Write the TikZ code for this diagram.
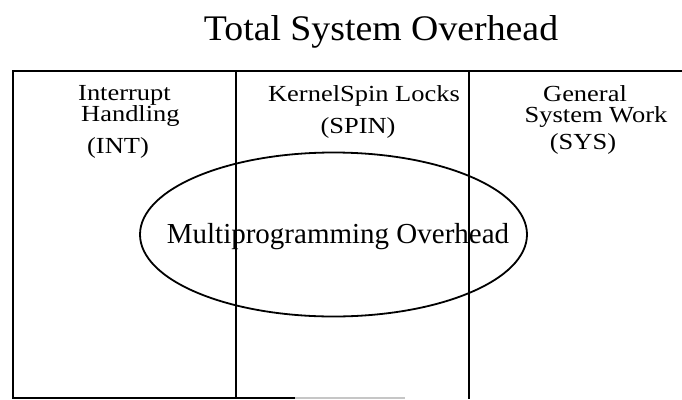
\documentclass[tikz,border=0pt]{standalone}
\usepackage{fontspec}
\setmainfont{Liberation Serif}
\usetikzlibrary{shapes.geometric}
\newcommand{\wide}[1]{\scalebox{1.15}[1]{#1}}
\begin{document}
\begin{tikzpicture}[x=1pt,y=-1pt,
  rule/.style={line width=1.9pt},
  lbl/.style={inner sep=0pt,font=\fontsize{23}{23}\selectfont},
]
\useasboundingbox (0,0) rectangle (682,399);
% frame and column dividers
\coordinate (tl) at (13,71);
\coordinate (tr) at (682,71);
\coordinate (bl) at (13,398);
\coordinate (bm) at (295,398);
\coordinate (be) at (405,398);
\coordinate (c1t) at (236,71);
\coordinate (c1b) at (236,399);
\coordinate (c2t) at (469,71);
\coordinate (c2b) at (469,399);
\draw[rule] (tr) -- (tl) -- (bl) -- (bm);
\draw[line width=1.2pt,gray!45] (bm) -- (be);
\draw[rule] (c1t) -- (c1b);
\draw[rule] (c2t) -- (c2b);
% title
\node[inner sep=0pt,anchor=base,font=\fontsize{36}{36}\selectfont] (title) at (381,40) {\scalebox{1.05}[1]{Total System Overhead}};
% column labels
\node[lbl,anchor=base west] (int1) at (78,100) {\wide{Interrupt}};
\node[lbl,anchor=base west] (int2) at (81,121) {\wide{Handling}};
\node[lbl,anchor=base] (int3) at (118,153) {\wide{(INT)}};
\node[lbl,anchor=base] (spin1) at (364,101) {\wide{KernelSpin Locks}};
\node[lbl,anchor=base] (spin2) at (358,133) {\wide{(SPIN)}};
\node[lbl,anchor=base] (sys1) at (585,101) {\wide{General}};
\node[lbl,anchor=base] (sys2) at (596,122) {\wide{System Work}};
\node[lbl,anchor=base] (sys3) at (583,149) {\wide{(SYS)}};
% overlapping region
\node[draw,ellipse,line width=1.8pt,inner sep=0pt,minimum width=387pt,minimum height=164pt] (mp) at (333.5,234.5) {};
\node[inner sep=0pt,anchor=base,font=\fontsize{29}{29}\selectfont] (mptext) at (338,243) {Multiprogramming Overhead};
\end{tikzpicture}
\end{document}
